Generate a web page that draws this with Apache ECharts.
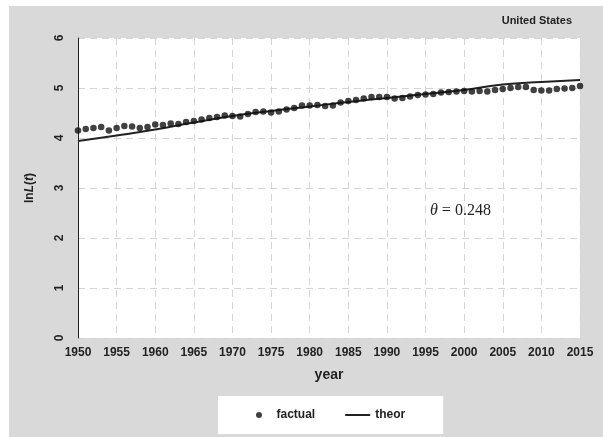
<!DOCTYPE html>
<html>
<head>
<meta charset="utf-8">
<script src="https://cdn.jsdelivr.net/npm/echarts@6/dist/echarts.min.js"></script>
<style>
  html, body { margin: 0; padding: 0; background: #fff; }
  #chart { width: 603px; height: 437px; }
</style>
</head>
<body>
<div id="chart"></div>
<script>
// yearly observed values, 1950..2015
var years = [];
for (var y = 1950; y <= 2015; y++) years.push(y);

var factual = [
  4.15, 4.18, 4.20, 4.22, 4.15, 4.20, 4.24, 4.23, 4.20, 4.22,
  4.27, 4.26, 4.29, 4.28, 4.32, 4.34, 4.37, 4.40, 4.42, 4.45,
  4.44, 4.43, 4.48, 4.52, 4.53, 4.51, 4.53, 4.57, 4.60, 4.65,
  4.65, 4.66, 4.64, 4.65, 4.71, 4.74, 4.76, 4.79, 4.82, 4.82,
  4.82, 4.79, 4.80, 4.83, 4.86, 4.87, 4.88, 4.91, 4.92, 4.93,
  4.94, 4.93, 4.94, 4.93, 4.96, 4.98, 5.00, 5.02, 5.02, 4.96,
  4.95, 4.95, 4.98, 4.99, 5.00, 5.04
];

var theorYears = [1950, 1955, 1960, 1965, 1970, 1975, 1980, 1985, 1990, 1995, 2000, 2005, 2010, 2015];
var theor = [3.94, 4.05, 4.17, 4.31, 4.44, 4.54, 4.63, 4.72, 4.80, 4.88, 4.96, 5.07, 5.12, 5.16];

var chart = echarts.init(document.getElementById('chart'));

var option = {
  animation: false,
  backgroundColor: '#fff',
  textStyle: { fontFamily: 'Liberation Sans, Arial, sans-serif' },
  graphic: [
    {
      type: 'rect', z: -10, silent: true,
      shape: { x: 9, y: 6, width: 594, height: 431 },
      style: { fill: '#d9d9d9' }
    },
    {
      type: 'text', right: 31, top: 15,
      style: { text: 'United States', font: 'bold 11px Liberation Sans, Arial', fill: '#222' }
    },
    {
      type: 'text', left: 430, top: 203,
      style: {
        text: '{i|θ} = 0.248',
        font: '16px Liberation Serif, Times New Roman, serif',
        fill: '#222',
        rich: { i: { fontStyle: 'italic', fontSize: 16, fontFamily: 'Liberation Serif' } }
      }
    }
  ],
  grid: { left: 78, right: 23, top: 38, bottom: 99, show: true, backgroundColor: '#fff', borderWidth: 0 },
  legend: {
    left: 218, top: 396,
    backgroundColor: '#fff',
    padding: [13, 38, 13, 38],
    itemGap: 30,
    itemWidth: 25, itemHeight: 6,
    textStyle: { fontWeight: 'bold', fontSize: 12, color: '#222' },
    data: [
      { name: 'factual', icon: 'circle' },
      { name: 'theor', icon: 'path://M0,0 L25,0 L25,2 L0,2 Z' }
    ]
  },
  xAxis: {
    type: 'value', min: 1950, max: 2015, interval: 5,
    name: 'year', nameLocation: 'middle', nameGap: 30,
    nameTextStyle: { fontWeight: 'bold', fontSize: 14, color: '#222' },
    axisLine: { show: false },
    axisTick: { show: false },
    axisLabel: { fontWeight: 'bold', fontSize: 12, color: '#222', margin: 9, formatter: function (v) { return String(v); } },
    splitLine: { show: true, lineStyle: { color: '#d4d4d4', type: [7, 5], width: 1 } }
  },
  yAxis: {
    type: 'value', min: 0, max: 6, interval: 1,
    name: '{a|ln}{b|L}{a|(}{b|t}{a|)}', nameLocation: 'middle', nameGap: 42, nameRotate: 90,
    nameTextStyle: {
      rich: {
        a: { fontWeight: 'bold', fontSize: 12, color: '#222' },
        b: { fontWeight: 'bold', fontStyle: 'italic', fontSize: 12, color: '#222' }
      }
    },
    axisLine: { show: true, lineStyle: { color: '#222', width: 1 } },
    axisTick: { show: false },
    axisLabel: { fontWeight: 'bold', fontSize: 12, color: '#222', rotate: 90, margin: 12 },
    splitLine: { show: true, lineStyle: { color: '#d4d4d4', type: [7, 5], width: 1 } }
  },
  series: [
    {
      name: 'factual', type: 'scatter',
      symbol: 'circle', symbolSize: 6.5,
      itemStyle: { color: '#111' },
      data: years.map(function (yr, i) { return [yr, factual[i]]; }),
      z: 3
    },
    {
      name: 'theor', type: 'line',
      symbol: 'none', smooth: true,
      lineStyle: { color: '#222', width: 2 },
      itemStyle: { color: '#222' },
      data: theorYears.map(function (yr, i) { return [yr, theor[i]]; }),
      z: 2
    }
  ]
};

chart.setOption(option);
</script>
</body>
</html>
